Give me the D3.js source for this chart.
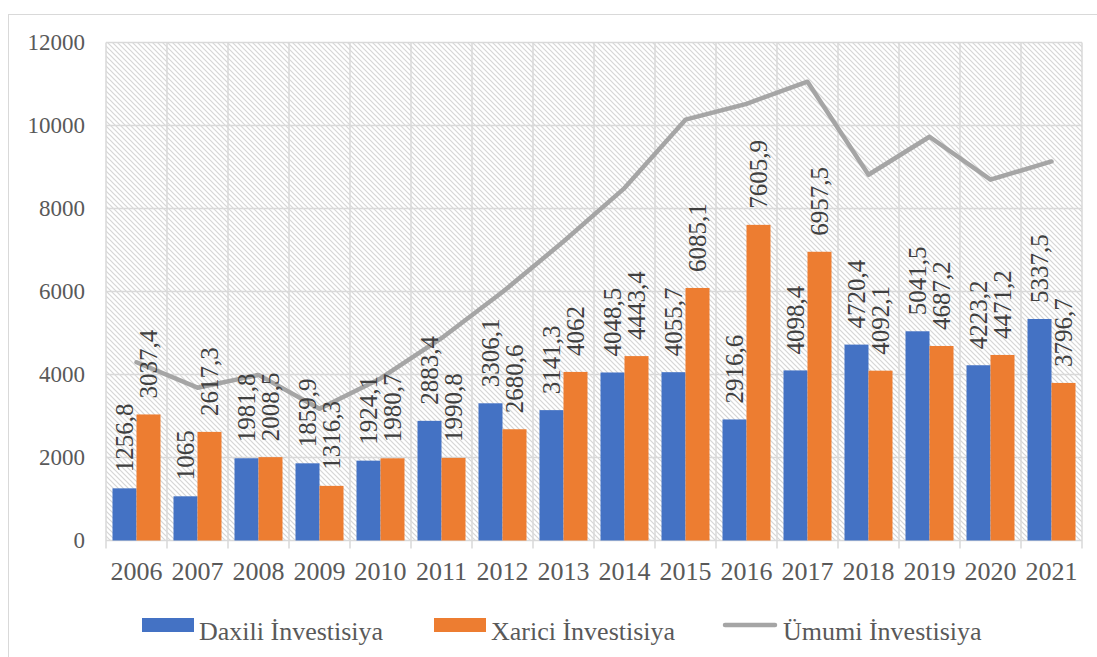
<!DOCTYPE html>
<html>
<head>
<meta charset="utf-8">
<script src="https://cdn.jsdelivr.net/npm/d3@7"></script>
<style>
  body { margin: 0; background: #fff; }
  svg { display: block; }
</style>
</head>
<body>
<script>
var years = ['2006','2007','2008','2009','2010','2011','2012','2013','2014','2015','2016','2017','2018','2019','2020','2021'];
var daxili = [1256.8, 1065, 1981.8, 1859.9, 1924.1, 2883.4, 3306.1, 3141.3, 4048.5, 4055.7, 2916.6, 4098.4, 4720.4, 5041.5, 4223.2, 5337.5];
var xarici = [3037.4, 2617.3, 2008.5, 1316.3, 1980.7, 1990.8, 2680.6, 4062, 4443.4, 6085.1, 7605.9, 6957.5, 4092.1, 4687.2, 4471.2, 3796.7];
var umumi = [4294.2, 3682.3, 3990.3, 3176.2, 3904.8, 4874.2, 5986.7, 7203.3, 8491.9, 10140.8, 10522.5, 11055.9, 8812.5, 9728.7, 8694.4, 9134.2];
var yTicks = [0, 2000, 4000, 6000, 8000, 10000, 12000];
var seriesNames = ['Daxili İnvestisiya', 'Xarici İnvestisiya', 'Ümumi İnvestisiya'];

var W = 1097, H = 657;
var pLeft = 106, pRight = 1082, pTop = 42.5, pBottom = 540.5;
var font = '"Liberation Serif", "Times New Roman", serif';
var blue = '#4472C4', orange = '#ED7D31', grey = '#A5A5A5';

var svg = d3.select('body').append('svg').attr('width', W).attr('height', H);

// hatch fill for plot area
var defs = svg.append('defs');
var pat = defs.append('pattern').attr('id', 'hatch')
  .attr('patternUnits', 'userSpaceOnUse').attr('width', 5).attr('height', 5);
pat.append('rect').attr('width', 5).attr('height', 5).attr('fill', '#fff');
pat.append('path').attr('d', 'M-1,-1L6,6M-1,4L1,6M4,-1L6,1')
  .attr('stroke', '#d6d6d6').attr('stroke-width', 1.2);

// outer chart border
svg.append('rect').attr('x', 8.5).attr('y', 14.5).attr('width', 1200).attr('height', 800)
  .attr('fill', 'none').attr('stroke', '#d9d9d9').attr('stroke-width', 1);

var x = d3.scaleBand().domain(years).range([pLeft, pRight]).padding(0);
var y = d3.scaleLinear().domain([0, 12000]).range([pBottom, pTop]);

svg.append('rect').attr('x', pLeft).attr('y', pTop).attr('width', pRight - pLeft).attr('height', pBottom - pTop)
  .attr('fill', 'url(#hatch)');

// grid
svg.selectAll('.hgrid').data(yTicks).enter().append('line')
  .attr('x1', pLeft).attr('x2', pRight)
  .attr('y1', function (d) { return y(d); }).attr('y2', function (d) { return y(d); })
  .attr('stroke', '#d9d9d9').attr('stroke-width', 1.5);
var bounds = years.map(function (d) { return x(d); }).concat([pRight]);
svg.selectAll('.vgrid').data(bounds).enter().append('line')
  .attr('x1', function (d) { return d; }).attr('x2', function (d) { return d; })
  .attr('y1', pTop).attr('y2', pBottom + 8)
  .attr('stroke', '#d9d9d9').attr('stroke-width', 1.5);

// y labels
svg.selectAll('.ylab').data(yTicks).enter().append('text')
  .attr('x', 85).attr('y', function (d) { return y(d); }).attr('dy', '0.33em')
  .attr('text-anchor', 'end').attr('font-family', font).attr('font-size', 23)
  .attr('fill', '#595959').text(function (d) { return d; });

// x labels
svg.selectAll('.xlab').data(years).enter().append('text')
  .attr('x', function (d) { return x(d) + x.bandwidth() / 2; }).attr('y', 580)
  .attr('text-anchor', 'middle').attr('font-family', font).attr('font-size', 26)
  .attr('fill', '#595959').text(function (d) { return d; });

var bw = 24, off = 6.5;
var fmt = function (v) { return String(v).replace('.', ','); };

function drawBars(vals, color, shift) {
  svg.append('g').selectAll('rect').data(vals).enter().append('rect')
    .attr('x', function (d, i) { return x(years[i]) + off + shift; })
    .attr('y', function (d) { return y(d); })
    .attr('width', bw)
    .attr('height', function (d) { return y(0) - y(d); })
    .attr('fill', color);
}
drawBars(daxili, blue, 0);
drawBars(xarici, orange, bw);

// total line
var line = d3.line()
  .x(function (d, i) { return x(years[i]) + x.bandwidth() / 2; })
  .y(function (d) { return y(d); });
svg.append('path').datum(umumi).attr('d', line)
  .attr('fill', 'none').attr('stroke', grey).attr('stroke-width', 4.5)
  .attr('stroke-linejoin', 'round').attr('stroke-linecap', 'round');

// data labels (rotated)
function drawLabels(vals, shift) {
  svg.append('g').selectAll('text').data(vals).enter().append('text')
    .attr('transform', function (d, i) {
      var cx = x(years[i]) + off + shift + bw / 2;
      return 'translate(' + cx + ',' + (y(d) - 16) + ') rotate(-90)';
    })
    .attr('dy', '0.33em')
    .attr('font-family', font).attr('font-size', 25).attr('fill', '#404040')
    .text(function (d) { return fmt(d); });
}
drawLabels(daxili, 0);
drawLabels(xarici, bw);

// legend
var lg = svg.append('g').attr('font-family', font).attr('font-size', 26).attr('fill', '#595959');
lg.append('rect').attr('x', 142).attr('y', 618).attr('width', 52).attr('height', 14).attr('fill', blue);
lg.append('text').attr('x', 199).attr('y', 640).text(seriesNames[0]);
lg.append('rect').attr('x', 434).attr('y', 618).attr('width', 52).attr('height', 14).attr('fill', orange);
lg.append('text').attr('x', 491).attr('y', 640).text(seriesNames[1]);
lg.append('line').attr('x1', 725).attr('x2', 775).attr('y1', 625).attr('y2', 625)
  .attr('stroke', grey).attr('stroke-width', 4.5).attr('stroke-linecap', 'round');
lg.append('text').attr('x', 783).attr('y', 640).text(seriesNames[2]);
</script>
</body>
</html>
